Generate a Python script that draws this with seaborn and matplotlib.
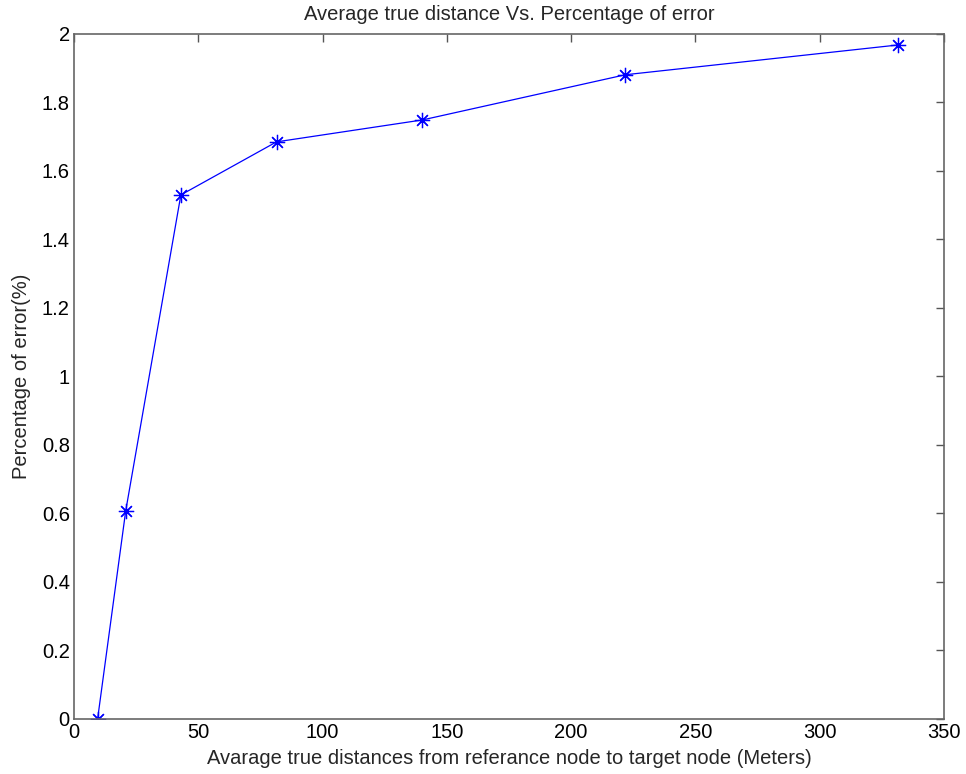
import matplotlib
matplotlib.use("Agg")
import matplotlib.pyplot as plt
import seaborn as sns
import pandas as pd

# values
distance = [9.5, 20.8, 43.0, 81.5, 140.2, 221.9, 331.7]
error_pct = [0.0, 0.607, 1.530, 1.685, 1.749, 1.881, 1.968]

df = pd.DataFrame({"distance": distance, "error": error_pct})

sns.set_style("white")
plt.rcParams["font.family"] = ["Liberation Sans", "DejaVu Sans"]

fig = plt.figure(figsize=(9.66, 7.74), dpi=100)
ax = fig.add_axes([0.0766, 0.0711, 0.9004, 0.8850])

sns.lineplot(data=df, x="distance", y="error", ax=ax, color="blue",
             linewidth=0.9, marker=(8, 2, 0), markersize=11,
             markeredgecolor="blue", markeredgewidth=0.9)

ax.set_xlim(0, 350)
ax.set_ylim(0, 2)
ax.set_xticks(range(0, 351, 50))
ax.set_yticks([i / 5 for i in range(11)])
ax.set_yticklabels(["0", "0.2", "0.4", "0.6", "0.8", "1", "1.2", "1.4", "1.6", "1.8", "2"])

fs = 14.5
ax.tick_params(direction="in", length=6, width=1, colors="#555555",
               labelcolor="black", labelsize=fs, top=True, right=True, pad=3)
for s in ax.spines.values():
    s.set_color("#666666")
    s.set_linewidth(1.2)

ax.set_title("Average true distance Vs. Percentage of error", fontsize=fs, pad=10)
ax.set_xlabel("Avarage true distances from referance node to target node (Meters)",
              fontsize=fs, labelpad=5)
ax.set_ylabel("Percentage of error(%)", fontsize=fs, labelpad=8)

fig.savefig("out.png", dpi=100)
